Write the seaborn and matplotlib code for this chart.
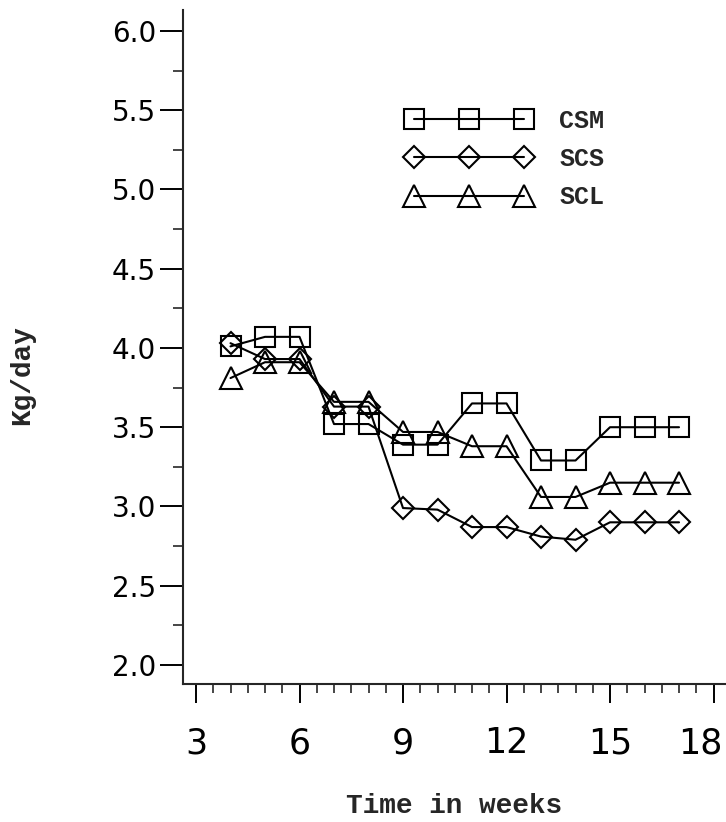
import matplotlib
matplotlib.use('Agg')
import matplotlib.pyplot as plt
import matplotlib.transforms as mtransforms
from matplotlib.ticker import MultipleLocator, FormatStrFormatter
import pandas as pd
import seaborn as sns

# values
weeks = [4, 5, 6, 7, 8, 9, 10, 11, 12, 13, 14, 15, 16, 17]
csm = [4.01, 4.07, 4.07, 3.52, 3.52, 3.39, 3.39, 3.65, 3.65, 3.29, 3.29, 3.50, 3.50, 3.50]
scs = [4.03, 3.93, 3.93, 3.63, 3.63, 2.99, 2.98, 2.87, 2.87, 2.81, 2.79, 2.90, 2.90, 2.90]
scl = [3.81, 3.91, 3.91, 3.66, 3.66, 3.47, 3.47, 3.38, 3.38, 3.06, 3.06, 3.15, 3.15, 3.15]
diets = ['CSM', 'SCS', 'SCL']

df = pd.DataFrame({
    'week': weeks * 3,
    'kg': csm + scs + scl,
    'diet': [d for d in diets for _ in weeks],
})

# marker per diet (open symbols, as in the plotter output)
marker_style = {'CSM': ('s', 15), 'SCS': ('D', 11.5), 'SCL': ('^', 16.5)}

sns.set_style('ticks')
plt.rcParams['font.family'] = ['DejaVu Sans']
plt.rcParams['axes.linewidth'] = 1.5

fig = plt.figure(figsize=(7.26, 8.22), dpi=100)
ax = fig.add_axes([183 / 726, 1 - 684 / 822, 543 / 726, 674 / 822])

for d in diets:
    mk, ms = marker_style[d]
    sns.lineplot(data=df[df['diet'] == d], x='week', y='kg', ax=ax,
                 color='black', linewidth=1.5, marker=mk, markersize=ms,
                 markerfacecolor='none', markeredgecolor='black',
                 markeredgewidth=1.5, label=d, legend=False, clip_on=False)

ax.set_xlim(2.623, 18.362)
ax.set_ylim(1.880, 6.132)
sns.despine(ax=ax)

ax.set_xticks([3, 6, 9, 12, 15, 18])
ax.xaxis.set_minor_locator(MultipleLocator(0.5))
ax.yaxis.set_major_locator(MultipleLocator(0.5))
ax.yaxis.set_minor_locator(MultipleLocator(0.25))
ax.yaxis.set_major_formatter(FormatStrFormatter('%.1f'))

ax.tick_params(axis='x', which='major', direction='out', length=13.5, width=1.4,
               pad=17, labelsize=25, colors='black')
ax.tick_params(axis='x', which='minor', direction='out', length=6.5, width=1.2)
ax.tick_params(axis='y', which='major', direction='out', length=16.5, width=1.4,
               pad=3, labelsize=20, colors='black')
ax.tick_params(axis='y', which='minor', direction='out', length=7, width=1.2)

# the "18" sits right at the page edge in the scan; nudge it inside
fig.canvas.draw()
shift = mtransforms.ScaledTranslation(-13 / 100, 0, fig.dpi_scale_trans)
for t in ax.get_xticklabels():
    if t.get_text() == '18':
        t.set_transform(t.get_transform() + shift)

lab_font = dict(family='Liberation Mono', weight='bold')
ax.set_xlabel('Time in weeks', fontsize=20, **lab_font)
ax.set_ylabel('Kg/day', fontsize=20, **lab_font)
ax.xaxis.label.set_verticalalignment('center')
ax.yaxis.label.set_verticalalignment('center')
ax.xaxis.set_label_coords(0.50, -0.181)
ax.yaxis.set_label_coords(-0.296, 0.458)

handles, labels = ax.get_legend_handles_labels()
ax.legend(handles, labels, loc='upper left',
          bbox_to_anchor=(407 / 726, 1 - 109 / 822), bbox_transform=fig.transFigure,
          frameon=False, numpoints=3, handlelength=5.0, handletextpad=1.1,
          labelspacing=0.57, borderpad=0, borderaxespad=0,
          prop=dict(family='Liberation Mono', weight='bold', size=18))

fig.savefig('out.png', dpi=100)
